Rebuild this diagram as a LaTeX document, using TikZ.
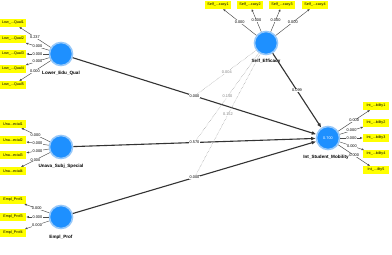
\documentclass[tikz,border=0pt]{standalone}
\usepackage{fontspec}
\setmainfont{Liberation Sans}
\usetikzlibrary{arrows.meta}
\definecolor{lvblue}{RGB}{30,144,255}
\definecolor{lvhalo}{RGB}{150,200,250}
\definecolor{indyel}{RGB}{255,255,0}
\begin{document}
\begin{tikzpicture}[x=1pt,y=-1pt,
 latent/.style={circle,fill=lvblue,draw=lvhalo,line width=1.6pt,minimum size=23pt,inner sep=0pt,text=white,font=\fontsize{3.8}{4.2}\selectfont},
 indbox/.style={fill=indyel,minimum width=26pt,minimum height=7.5pt,inner sep=0pt,font=\fontsize{3.7}{4.2}\selectfont},
 lvlabel/.style={font=\bfseries\fontsize{4.6}{5}\selectfont},
 coef/.style={fill=white,inner sep=0.3pt,font=\fontsize{3.9}{4.3}\selectfont},
 modcoef/.style={coef,text=black!50},
 ind/.style={draw=black!70,line width=0.45pt,-{Latex[length=2.6pt,width=2.2pt]}},
 struct/.style={draw=black!80,line width=1.1pt,-{Latex[length=4.5pt,width=3.8pt]}},
 moder/.style={draw=black!45,line width=0.45pt,densely dotted}]
\path[use as bounding box,fill=white] (0,0) rectangle (392,255);

% latent variables
\node[latent] (L) at (61,54) {};
\node[latent] (U) at (61,147) {};
\node[latent] (E) at (61,217) {};
\node[latent] (S) at (266,43) {};
\node[latent] (I) at (328,138) {0.700};

\node[lvlabel] (Ll) at (61,73) {Lower\_Edu\_Qual};
\node[lvlabel] (Ul) at (61,166) {Unava\_Subj\_Special};
\node[lvlabel] (El) at (61,237) {Empl\_Prof};
\node[lvlabel] (Sl) at (266,61) {Self\_Efficacy};
\node[lvlabel] (Il) at (326,157) {Int\_Student\_Mobility};

% indicators
\node[indbox] (l1) at (13,23) {Low\_...Qual1};
\node[indbox] (l2) at (13,39) {Low\_...Qual2};
\node[indbox] (l3) at (13,54) {Low\_...Qual3};
\node[indbox] (l4) at (13,69) {Low\_...Qual4};
\node[indbox] (l5) at (13,85) {Low\_...Qual5};

\node[indbox] (u1) at (13,124) {Una...ecial1};
\node[indbox] (u2) at (13,140) {Una...ecial2};
\node[indbox] (u3) at (13,155) {Una...ecial3};
\node[indbox] (u4) at (13,171) {Una...ecial4};

\node[indbox] (e1) at (13,200) {Empl\_Prof1};
\node[indbox] (e3) at (13,217) {Empl\_Prof3};
\node[indbox] (e4) at (13,233) {Empl\_Prof4};

\node[indbox] (s1) at (218,5) {Self\_...cacy1};
\node[indbox] (s2) at (250,5) {Self\_...cacy2};
\node[indbox] (s3) at (282,5) {Self\_...cacy3};
\node[indbox] (s4) at (315,5) {Self\_...cacy4};

\node[indbox] (i1) at (376,106) {Int\_...bility1};
\node[indbox] (i2) at (376,123) {Int\_...bility2};
\node[indbox] (i3) at (376,138) {Int\_...bility3};
\node[indbox] (i4) at (376,154) {Int\_...bility4};
\node[indbox] (i5) at (376,170) {Int\_...ility5};

% outer loadings
\draw[ind] (L) -- node[coef] {0.237} (l1);
\draw[ind] (L) -- node[coef] {0.000} (l2);
\draw[ind] (L) -- node[coef] {0.000} (l3);
\draw[ind] (L) -- node[coef] {0.000} (l4);
\draw[ind] (L) -- node[coef] {0.000} (l5);

\draw[ind] (U) -- node[coef] {0.000} (u1);
\draw[ind] (U) -- node[coef] {0.000} (u2);
\draw[ind] (U) -- node[coef] {0.000} (u3);
\draw[ind] (U) -- node[coef] {0.000} (u4);

\draw[ind] (E) -- node[coef] {0.000} (e1);
\draw[ind] (E) -- node[coef] {0.000} (e3);
\draw[ind] (E) -- node[coef] {0.000} (e4);

\draw[ind] (S) -- node[coef] {0.000} (s1);
\draw[ind] (S) -- node[coef] {0.000} (s2);
\draw[ind] (S) -- node[coef] {0.000} (s3);
\draw[ind] (S) -- node[coef] {0.000} (s4);

\draw[ind] (I) -- node[coef] {0.000} (i1);
\draw[ind] (I) -- node[coef] {0.000} (i2);
\draw[ind] (I) -- node[coef] {0.000} (i3);
\draw[ind] (I) -- node[coef] {0.000} (i4);
\draw[ind] (I) -- node[coef] {0.000} (i5);

% structural paths
\draw[struct] (L) -- node[coef] (pL) {0.000} (I);
\draw[struct] (U) -- node[coef] (pU) {0.570} (I);
\draw[struct] (E) -- node[coef] (pE) {0.000} (I);
\draw[struct] (S) -- node[coef] (pS) {0.099} (I);

% moderating effects
\draw[moder] (S) -- node[modcoef] {0.004} (pL);
\draw[moder] (S) -- node[modcoef] {0.150} (pU);
\draw[moder] (S) -- node[modcoef] {0.152} (pE);
\end{tikzpicture}
\end{document}
